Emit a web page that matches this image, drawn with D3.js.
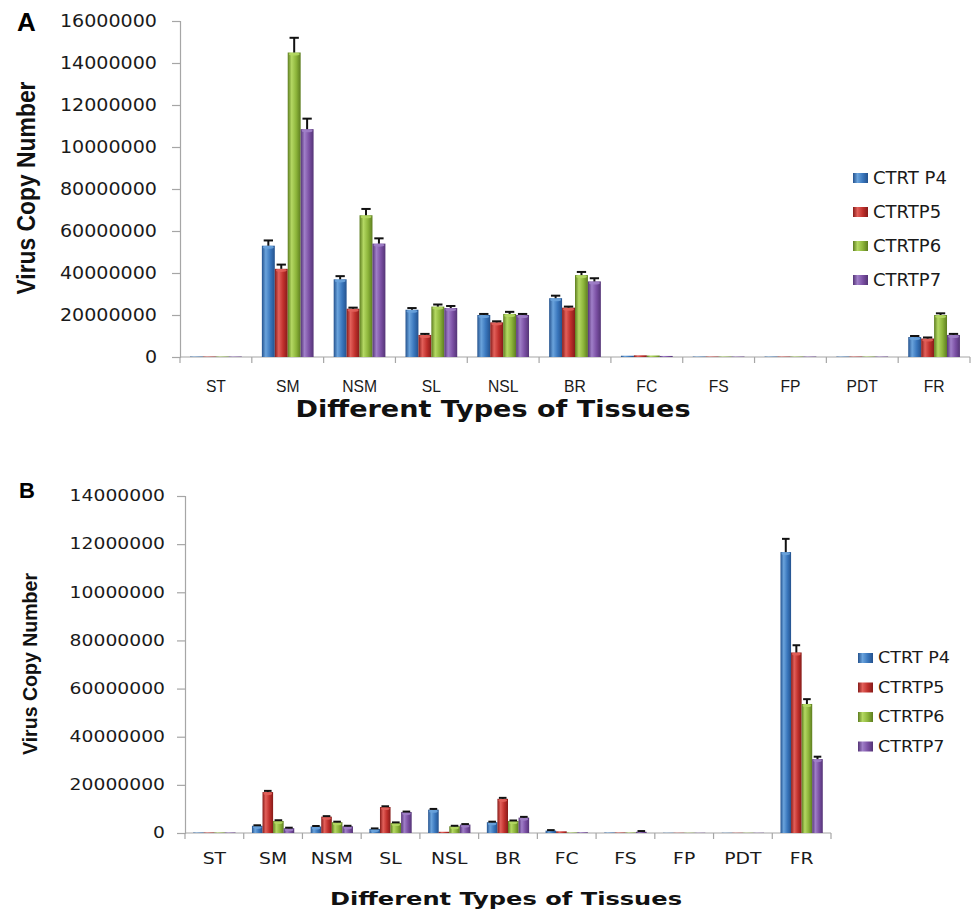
<!DOCTYPE html>
<html>
<head>
<meta charset="utf-8">
<script src="https://cdn.jsdelivr.net/npm/d3@7"></script>
<style>
  html, body { margin: 0; padding: 0; background: #fff; }
  svg { display: block; }
</style>
</head>
<body>
<svg id="chart" width="973" height="911"></svg>
<script>
// Tissue categories and passage series
const categories = ["ST", "SM", "NSM", "SL", "NSL", "BR", "FC", "FS", "FP", "PDT", "FR"];
const seriesNames = ["CTRT P4", "CTRTP5", "CTRTP6", "CTRTP7"];

// Panel A: virus copy number per tissue (copies)
const panelA_P4 = [20000, 5300000, 3700000, 2250000, 2000000, 2800000, 60000, 20000, 20000, 20000, 950000];
const panelA_P5 = [20000, 4200000, 2300000, 1050000, 1650000, 2350000, 80000, 20000, 20000, 20000, 880000];
const panelA_P6 = [20000, 14500000, 6750000, 2400000, 2050000, 3900000, 70000, 20000, 20000, 20000, 2000000];
const panelA_P7 = [20000, 10850000, 5400000, 2330000, 2000000, 3600000, 50000, 20000, 20000, 20000, 1050000];
// Panel A: error (upper) per bar
const panelA_errP4 = [0, 250000, 150000, 80000, 50000, 120000, 0, 0, 0, 0, 50000];
const panelA_errP5 = [0, 200000, 50000, 50000, 50000, 50000, 0, 0, 0, 0, 50000];
const panelA_errP6 = [0, 700000, 300000, 100000, 100000, 150000, 0, 0, 0, 0, 80000];
const panelA_errP7 = [0, 500000, 250000, 100000, 50000, 150000, 0, 0, 0, 0, 50000];
const panelA_tickValues = [0, 2000000, 4000000, 6000000, 8000000, 10000000, 12000000, 14000000, 16000000];
const panelA_tickLabels = ["0", "20000000", "40000000", "60000000", "80000000", "10000000", "12000000", "14000000", "16000000"];

// Panel B: virus copy number per tissue (copies)
const panelB_P4 = [20000, 300000, 270000, 170000, 970000, 450000, 100000, 20000, 10000, 10000, 11670000];
const panelB_P5 = [20000, 1700000, 680000, 1080000, 50000, 1420000, 70000, 20000, 10000, 10000, 7500000];
const panelB_P6 = [20000, 500000, 450000, 420000, 280000, 500000, 20000, 20000, 10000, 10000, 5360000];
const panelB_P7 = [20000, 200000, 280000, 870000, 350000, 640000, 30000, 50000, 10000, 10000, 3070000];
const panelB_errP4 = [0, 20000, 20000, 20000, 30000, 20000, 20000, 0, 0, 0, 550000];
const panelB_errP5 = [0, 50000, 20000, 30000, 0, 40000, 0, 0, 0, 0, 300000];
const panelB_errP6 = [0, 30000, 20000, 20000, 20000, 20000, 0, 0, 0, 0, 200000];
const panelB_errP7 = [0, 20000, 20000, 20000, 20000, 30000, 0, 30000, 0, 0, 100000];
const panelB_tickValues = [0, 2000000, 4000000, 6000000, 8000000, 10000000, 12000000, 14000000];
const panelB_tickLabels = ["0", "20000000", "40000000", "60000000", "80000000", "10000000", "12000000", "14000000"];

// Bar colours: [dark edge, highlight, base]
const palette = [
  ["#24528e", "#6aa3dc", "#3a77bd"],
  ["#861b19", "#e2605a", "#c0302c"],
  ["#5d7d1f", "#b4d863", "#8db53b"],
  ["#543476", "#a07fc8", "#7b50a4"]
];

const svg = d3.select("#chart");
const defs = svg.append("defs");
palette.forEach((c, i) => {
  const g = defs.append("linearGradient").attr("id", "cyl" + i)
    .attr("x1", "0%").attr("x2", "100%").attr("y1", "0%").attr("y2", "0%");
  g.append("stop").attr("offset", "0%").attr("stop-color", c[0]);
  g.append("stop").attr("offset", "30%").attr("stop-color", c[1]);
  g.append("stop").attr("offset", "65%").attr("stop-color", c[2]);
  g.append("stop").attr("offset", "100%").attr("stop-color", c[0]);
});

// Stretch text horizontally by a factor
function stretch(sel, k) {
  sel.each(function () {
    const L = this.getComputedTextLength();
    if (L > 0) {
      this.setAttribute("textLength", (L * k).toFixed(1));
      this.setAttribute("lengthAdjust", "spacingAndGlyphs");
    }
  });
}

function drawPanel(cfg) {
  const g = svg.append("g");
  const series = [cfg.p4, cfg.p5, cfg.p6, cfg.p7];
  const errs = [cfg.e4, cfg.e5, cfg.e6, cfg.e7];

  const x0 = d3.scaleBand().domain(categories).range([cfg.left, cfg.right]).padding(0);
  const pad = x0.bandwidth() * 0.14;
  const x1 = d3.scaleBand().domain(seriesNames).range([pad, x0.bandwidth() - pad]).padding(0);
  const y = d3.scaleLinear().domain([0, cfg.max]).range([cfg.bottom, cfg.top]);

  // y axis
  const yAxis = d3.axisLeft(y).tickValues(cfg.tickValues)
    .tickFormat((d, i) => cfg.tickLabels[i]).tickSize(8).tickPadding(cfg.tickPad);
  const ya = g.append("g").attr("transform", `translate(${cfg.left},0)`).call(yAxis);
  ya.select(".domain").attr("stroke", "#a6a6a6").attr("stroke-width", 1.2);
  ya.selectAll(".tick line").attr("stroke", "#a6a6a6").attr("stroke-width", 1.2);
  ya.selectAll(".tick text")
    .attr("font-family", "DejaVu Sans").attr("font-size", cfg.tickFont).attr("fill", "#1a1a1a");
  stretch(ya.selectAll(".tick text"), cfg.tickStretch);

  // x axis line with boundary ticks
  g.append("line").attr("x1", cfg.left).attr("x2", cfg.right)
    .attr("y1", cfg.bottom).attr("y2", cfg.bottom)
    .attr("stroke", "#a6a6a6").attr("stroke-width", 1.2);
  const edges = categories.map(c => x0(c)).concat([cfg.right]);
  g.selectAll(".xtick").data(edges).enter().append("line")
    .attr("x1", d => d).attr("x2", d => d)
    .attr("y1", cfg.bottom).attr("y2", cfg.bottom + 6)
    .attr("stroke", "#a6a6a6").attr("stroke-width", 1.2);

  // category labels
  const cl = g.selectAll(".cat").data(categories).enter().append("text")
    .attr("x", d => x0(d) + x0.bandwidth() / 2)
    .attr("y", cfg.catY)
    .attr("text-anchor", "middle")
    .attr("font-family", cfg.catFamily).attr("font-size", cfg.catFont).attr("fill", "#1a1a1a")
    .text(d => d);
  stretch(cl, cfg.catStretch);

  // bars
  series.forEach((vals, si) => {
    const gs = g.append("g");
    vals.forEach((v, ci) => {
      const bx = x0(categories[ci]) + x1(seriesNames[si]);
      const bw = x1.bandwidth();
      const by = y(v);
      const bh = cfg.bottom - by;
      gs.append("rect").attr("x", bx).attr("y", by).attr("width", bw).attr("height", bh)
        .attr("fill", `url(#cyl${si})`);
      if (bh > 3) {
        gs.append("ellipse").attr("cx", bx + bw / 2).attr("cy", by + 1.5)
          .attr("rx", bw / 2 - 1).attr("ry", 1.6)
          .attr("fill", palette[si][1]).attr("opacity", 0.9);
      }
      const e = errs[si][ci];
      if (e > 0) {
        const ey = y(v + e);
        const cx = bx + bw / 2;
        gs.append("line").attr("x1", cx).attr("x2", cx).attr("y1", by).attr("y2", ey)
          .attr("stroke", "#111").attr("stroke-width", 2);
        gs.append("line").attr("x1", cx - bw * 0.36).attr("x2", cx + bw * 0.36)
          .attr("y1", ey).attr("y2", ey)
          .attr("stroke", "#111").attr("stroke-width", 2);
      }
    });
  });

  // legend
  const lg = g.append("g");
  seriesNames.forEach((name, i) => {
    const ly = cfg.legY + i * cfg.legStep;
    lg.append("rect").attr("x", cfg.legX).attr("y", ly - 5).attr("width", 15).attr("height", 10)
      .attr("fill", `url(#cyl${i})`);
    const t = lg.append("text").attr("x", cfg.legX + 20).attr("y", ly)
      .attr("dy", "0.36em")
      .attr("font-family", "DejaVu Sans").attr("font-size", cfg.legFont).attr("fill", "#1a1a1a")
      .text(name);
    stretch(t, cfg.legStretch);
  });

  // axis titles
  g.append("text")
    .attr("transform", `translate(${cfg.yTitleX},${cfg.yTitleY}) rotate(-90)`)
    .attr("text-anchor", "middle")
    .attr("font-family", "Liberation Sans Narrow, Liberation Sans").attr("font-weight", "bold")
    .attr("font-size", cfg.yTitleFont).attr("fill", "#111")
    .attr("textLength", cfg.yTitleLen).attr("lengthAdjust", "spacingAndGlyphs")
    .text("Virus Copy Number");

  g.append("text")
    .attr("x", cfg.xTitleX).attr("y", cfg.xTitleY)
    .attr("text-anchor", "middle")
    .attr("font-family", "DejaVu Sans").attr("font-weight", "bold")
    .attr("font-size", cfg.xTitleFont).attr("fill", "#111")
    .attr("textLength", cfg.xTitleLen).attr("lengthAdjust", "spacingAndGlyphs")
    .text("Different Types of Tissues");

  // panel letter
  g.append("text").attr("x", cfg.letterX).attr("y", cfg.letterY)
    .attr("font-family", "Liberation Sans").attr("font-weight", "bold")
    .attr("font-size", cfg.letterFont).attr("fill", "#000")
    .text(cfg.letter);
}

drawPanel({
  letter: "A", letterX: 17, letterY: 31, letterFont: 26,
  p4: panelA_P4, p5: panelA_P5, p6: panelA_P6, p7: panelA_P7,
  e4: panelA_errP4, e5: panelA_errP5, e6: panelA_errP6, e7: panelA_errP7,
  tickValues: panelA_tickValues, tickLabels: panelA_tickLabels,
  max: 16000000, left: 180, right: 970, top: 21, bottom: 357,
  tickFont: 18, tickStretch: 1.06, tickPad: 15,
  catY: 392, catFamily: "Liberation Sans", catFont: 16.5, catStretch: 0.95,
  legX: 853, legY: 178, legStep: 34, legFont: 17, legStretch: 1.06,
  yTitleX: 35, yTitleY: 188, yTitleFont: 25, yTitleLen: 213,
  xTitleX: 493, xTitleY: 417, xTitleFont: 23, xTitleLen: 395
});

drawPanel({
  letter: "B", letterX: 19, letterY: 498, letterFont: 22,
  p4: panelB_P4, p5: panelB_P5, p6: panelB_P6, p7: panelB_P7,
  e4: panelB_errP4, e5: panelB_errP5, e6: panelB_errP6, e7: panelB_errP7,
  tickValues: panelB_tickValues, tickLabels: panelB_tickLabels,
  max: 14000000, left: 185, right: 831, top: 496, bottom: 833,
  tickFont: 15, tickStretch: 1.25, tickPad: 12,
  catY: 864, catFamily: "DejaVu Sans", catFont: 15, catStretch: 1.25,
  legX: 858, legY: 658, legStep: 29.5, legFont: 15, legStretch: 1.17,
  yTitleX: 37, yTitleY: 664, yTitleFont: 21, yTitleLen: 182,
  xTitleX: 506, xTitleY: 905, xTitleFont: 18, xTitleLen: 352
});
</script>
</body>
</html>
